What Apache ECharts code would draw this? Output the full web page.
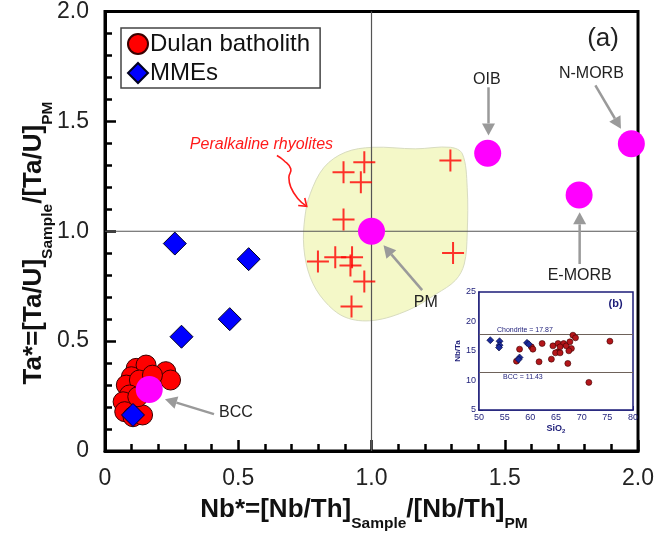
<!DOCTYPE html>
<html><head><meta charset="utf-8">
<script src="https://cdn.jsdelivr.net/npm/echarts@6/dist/echarts.min.js"></script>
<style>html,body{margin:0;padding:0;background:#fff}#c{width:657px;height:538px}</style>
</head><body><div id="c"></div>
<script>
// ---------- data ----------
const dulanBatholith = [[0.117,0.376],[0.154,0.391],[0.099,0.338],[0.228,0.361],[0.246,0.323],[0.080,0.300],[0.129,0.323],[0.092,0.255],[0.068,0.224],[0.074,0.179],[0.105,0.156],[0.141,0.164],[0.123,0.247],[0.178,0.345]];
const mmes = [[0.262,0.944],[0.539,0.873],[0.468,0.600],[0.287,0.520],[0.105,0.164]];
const peralkalineRhyolites = [[0.973,1.314],[0.895,1.269],[0.960,1.223],[1.296,1.322],[0.895,1.053],[0.799,0.862],[0.864,0.882],[0.927,0.882],[0.921,0.844],[0.973,0.771],[0.925,0.657],[1.306,0.901]];
const refNames = ['BCC','PM','OIB','E-MORB','N-MORB'];
const refX = [0.166,1.0,1.436,1.779,1.975];
const refY = [0.280,1.0,1.355,1.165,1.398];
const fieldOutline = [[0.822,1.291],[0.901,1.359],[1.005,1.382],[1.164,1.375],[1.296,1.382],[1.341,1.352],[1.359,1.200],[1.359,0.988],[1.348,0.851],[1.315,0.777],[1.243,0.715],[1.138,0.641],[1.006,0.594],[0.901,0.609],[0.822,0.685],[0.770,0.791],[0.746,0.927],[0.750,1.064],[0.770,1.170]];
const xTickLabels = [0,0.5,1.0,1.5,2.0];
const yTickLabels = [0,0.5,1.0,1.5,2.0];
// inset (b): SiO2 vs Nb/Ta
const insetDulan = [[57.3,13.28],[57.9,15.31],[60.2,15.7],[60.5,15.31],[62.3,16.27],[61.7,13.17],[64.1,13.62],[64.4,15.87],[65.4,16.27],[65.4,14.86],[64.9,14.69],[65.8,14.69],[66.5,16.27],[67.0,15.87],[67.7,16.55],[68.0,15.42],[67.5,15.03],[67.3,12.89],[68.3,17.68],[68.8,17.23],[75.5,16.66],[71.4,9.68],[65.8,15.7]];
const insetMMEs = [[52.2,16.83],[54.0,16.66],[54.0,15.99],[53.9,15.59],[59.35,16.38],[59.7,16.15],[57.9,13.9],[57.7,13.56]];
const chondriteNbTa = 17.87;
const bccNbTa = 11.43;
// annotation anchors in data coordinates: [label, textX, textY, arrowFromX, arrowFromY, arrowToX, arrowToY]
const annotations = [
  ['OIB',1.433,1.691,1.439,1.655,1.439,1.436],
  ['N-MORB',1.825,1.718,1.840,1.664,1.936,1.466],
  ['E-MORB',1.781,0.800,1.781,0.851,1.781,1.086],
  ['PM',1.204,0.677,1.190,0.732,1.045,0.936],
  ['BCC',0.491,0.173,0.409,0.168,0.225,0.236]
];
const fieldLabel = ['Peralkaline rhyolites',0.587,1.395];
const curlyArrow = [[0.645,1.345],[0.671,1.322],[0.697,1.284],[0.690,1.246],[0.697,1.201],[0.724,1.148],[0.757,1.113]];
const panelLabel = ['(a)',1.869,1.877];
const insetPanelLabel = ['(b)',76.6,22.9];
const xTitle = ['Nb*=[Nb/Th]','Sample','/[Nb/Th]','PM'];
const yTitle = ['Ta*=[Ta/U]','Sample','/[Ta/U]','PM'];

const FONT = "'Liberation Sans', Arial, Helvetica, sans-serif";
const NAVY = '#1c1c78';
const chart = echarts.init(document.getElementById('c'), null, {renderer:'canvas'});

const fmt = v => v === 0 ? '0' : v.toFixed(1);

const option = {
  animation:false,
  backgroundColor:'#fff',
  textStyle:{fontFamily:FONT},
  grid:[
    {left:105, top:11, width:541, height:440, show:true, borderColor:'#000', borderWidth:3, backgroundColor:'#fff'},
    {left:479, top:292, width:154, height:118, show:true, borderColor:NAVY, borderWidth:1.5, backgroundColor:'#fff', z:3}
  ],
  legend:{
    data:['Dulan batholith','MMEs'], orient:'vertical', left:121, top:28,
    itemWidth:20, itemHeight:20, itemGap:5, padding:[4,10,3,6],
    borderColor:'#444', borderWidth:1.5, backgroundColor:'#fff', selectedMode:false,
    textStyle:{fontSize:24, color:'#111', fontFamily:FONT, padding:[0,0,0,-3]}
  },
  xAxis:[
    {type:'value', gridIndex:0, min:0, max:2, interval:0.5,
     axisLine:{show:true, lineStyle:{color:'#000', width:3}},
     axisTick:{show:true, inside:true, length:11, lineStyle:{color:'#000', width:2.5}},
     minorTick:{show:true, splitNumber:5, length:7, lineStyle:{color:'#000', width:2.5}},
     splitLine:{show:false}, minorSplitLine:{show:false},
     axisLabel:{fontSize:23, color:'#222', margin:16, fontFamily:FONT, formatter:fmt, customValues:xTickLabels}
    },
    {type:'value', gridIndex:1, min:50, max:80, interval:5,
     axisLine:{show:true, lineStyle:{color:NAVY, width:1.5}},
     axisTick:{show:true, inside:true, length:4, lineStyle:{color:NAVY, width:1}},
     minorTick:{show:true, splitNumber:2, length:4, lineStyle:{color:NAVY, width:1}},
     splitLine:{show:false}, minorSplitLine:{show:false},
     axisLabel:{fontSize:9, color:NAVY, margin:3, fontFamily:FONT},
     name:'SiO{s|2}', nameLocation:'middle', nameGap:13,
     nameTextStyle:{fontSize:9, color:NAVY, fontWeight:'bold', rich:{s:{fontSize:6, color:NAVY, fontWeight:'bold', padding:[5,0,0,0]}}}
    }
  ],
  yAxis:[
    {type:'value', gridIndex:0, min:0, max:2, interval:0.5,
     axisLine:{show:true, lineStyle:{color:'#000', width:3}},
     axisTick:{show:true, inside:true, length:11, lineStyle:{color:'#000', width:2.5}},
     minorTick:{show:true, splitNumber:5, length:7, lineStyle:{color:'#000', width:2.5}},
     splitLine:{show:false}, minorSplitLine:{show:false},
     axisLabel:{fontSize:23, color:'#222', margin:16, fontFamily:FONT, formatter:fmt, customValues:yTickLabels}
    },
    {type:'value', gridIndex:1, min:5, max:25, interval:5,
     axisLine:{show:true, lineStyle:{color:NAVY, width:1.5}},
     axisTick:{show:true, inside:true, length:4, lineStyle:{color:NAVY, width:1}},
     minorTick:{show:true, splitNumber:2, length:4, lineStyle:{color:NAVY, width:1}},
     splitLine:{show:false}, minorSplitLine:{show:false},
     axisLabel:{fontSize:9, color:NAVY, margin:3, fontFamily:FONT},
     name:'Nb/Ta', nameLocation:'middle', nameGap:14, nameRotate:90,
     nameTextStyle:{fontSize:8, color:NAVY, fontWeight:'bold'}
    }
  ],
  series:[
    {type:'custom', name:'field', xAxisIndex:0, yAxisIndex:0, silent:true, z:1,
     data:[0],
     renderItem:(params, api) => ({
       type:'polygon',
       shape:{points:fieldOutline.map(p => api.coord(p)), smooth:0.35},
       style:{fill:'#f4f8c8', stroke:'#d8dcc0', lineWidth:1}
     })
    },
    {type:'line', name:'vref', xAxisIndex:0, yAxisIndex:0, silent:true, symbol:'none', z:2,
     data:[[1,0],[1,2]], lineStyle:{color:'#555', width:1.2}},
    {type:'line', name:'href', xAxisIndex:0, yAxisIndex:0, silent:true, symbol:'none', z:2,
     data:[[0,1],[2,1]], lineStyle:{color:'#555', width:1.2}},
    {type:'scatter', name:'Peralkaline rhyolites', xAxisIndex:0, yAxisIndex:0, z:3,
     symbol:'path://M0,10L20,10M10,0L10,20', symbolSize:22,
     itemStyle:{color:'rgba(0,0,0,0)', borderColor:'#ff0000', borderWidth:2},
     data:peralkalineRhyolites},
    {type:'scatter', name:'Dulan batholith', xAxisIndex:0, yAxisIndex:0, z:4,
     symbol:'circle', symbolSize:20,
     itemStyle:{color:'#ff0000', borderColor:'#3a0000', borderWidth:1, opacity:1},
     data:dulanBatholith},
    {type:'scatter', name:'MMEs', xAxisIndex:0, yAxisIndex:0, z:5,
     symbol:'diamond', symbolSize:23,
     itemStyle:{color:'#0000ff', borderColor:'#000022', borderWidth:1, opacity:1},
     data:mmes},
    {type:'scatter', name:'reference', xAxisIndex:0, yAxisIndex:0, z:6,
     symbol:'circle', symbolSize:27,
     itemStyle:{color:'#ff00ff', opacity:1},
     data:refX.map((x,i) => ({name:refNames[i], value:[x, refY[i]]}))},
    {type:'scatter', name:'inset Dulan', xAxisIndex:1, yAxisIndex:1, z:7,
     symbol:'circle', symbolSize:6,
     itemStyle:{color:'#b3161a', borderColor:'#3a0000', borderWidth:0.6, opacity:1},
     data:insetDulan,
     markLine:{silent:true, symbol:'none', animation:false,
       lineStyle:{color:'#6e625a', width:1.2, type:'solid'},
       data:[
         {yAxis:chondriteNbTa, label:{show:true, position:'insideStartTop', formatter:'Chondrite = 17.87', fontSize:7, color:NAVY, distance:[18,1]}},
         {yAxis:bccNbTa, label:{show:true, position:'insideStartBottom', formatter:'BCC = 11.43', fontSize:7, color:NAVY, distance:[24,1]}}
       ]}
    },
    {type:'scatter', name:'inset MMEs', xAxisIndex:1, yAxisIndex:1, z:8,
     symbol:'diamond', symbolSize:7,
     itemStyle:{color:'#1a2a9a', borderColor:'#000033', borderWidth:0.6, opacity:1},
     data:insetMMEs}
  ]
};
chart.setOption(option);

// ---------- annotations positioned from data coordinates ----------
const P = d => chart.convertToPixel({gridIndex:0}, d);
const graphics = [];
function arrow(from, to, color, width, headLen, headHalf) {
  const dx = to[0]-from[0], dy = to[1]-from[1];
  const L = Math.hypot(dx,dy), ux = dx/L, uy = dy/L;
  const base = [to[0]-ux*headLen, to[1]-uy*headLen];
  graphics.push({type:'line', z:20, shape:{x1:from[0], y1:from[1], x2:base[0], y2:base[1]}, style:{stroke:color, lineWidth:width}});
  graphics.push({type:'polygon', z:20, shape:{points:[to, [base[0]-uy*headHalf, base[1]+ux*headHalf], [base[0]+uy*headHalf, base[1]-ux*headHalf]]}, style:{fill:color}});
}
annotations.forEach(a => {
  const t = P([a[1],a[2]]);
  graphics.push({type:'text', z:20, x:t[0], y:t[1], style:{text:a[0], fontSize:16, fontFamily:FONT, fill:'#222', align:'center', verticalAlign:'middle'}});
  arrow(P([a[3],a[4]]), P([a[5],a[6]]), '#9a9a9a', 2.5, 12, 6.5);
});
const fl = P([fieldLabel[1], fieldLabel[2]]);
graphics.push({type:'text', z:20, x:fl[0], y:fl[1], style:{text:fieldLabel[0], fontSize:16, fontStyle:'italic', fontFamily:FONT, fill:'#ff1a1a', align:'center', verticalAlign:'middle'}});
const cpts = curlyArrow.map(P);
graphics.push({type:'polyline', z:20, shape:{points:cpts, smooth:0.5}, style:{stroke:'#ff1a1a', lineWidth:1.6, fill:null}});
(function(){
  const a = cpts[cpts.length-2], b = cpts[cpts.length-1];
  const dx=b[0]-a[0], dy=b[1]-a[1], L=Math.hypot(dx,dy), ux=dx/L, uy=dy/L;
  graphics.push({type:'polyline', z:20, shape:{points:[[b[0]-ux*7-uy*5, b[1]-uy*7+ux*5], b, [b[0]-ux*7+uy*5, b[1]-uy*7-ux*5]]}, style:{stroke:'#ff1a1a', lineWidth:1.6, fill:null}});
})();
const pa = P([panelLabel[1], panelLabel[2]]);
graphics.push({type:'text', z:20, x:pa[0], y:pa[1], style:{text:panelLabel[0], fontSize:26, fontFamily:FONT, fill:'#222', align:'center', verticalAlign:'middle'}});
const pb = chart.convertToPixel({gridIndex:1}, [insetPanelLabel[1], insetPanelLabel[2]]);
graphics.push({type:'text', z:20, x:pb[0], y:pb[1], style:{text:insetPanelLabel[0], fontSize:11, fontWeight:'bold', fontFamily:FONT, fill:NAVY, align:'center', verticalAlign:'middle'}});

// axis titles with subscripts
const titleRich = {
  m:{fontSize:26, fontWeight:'bold', fill:'#111', fontFamily:FONT, lineHeight:30, verticalAlign:'top'},
  s:{fontSize:15.5, fontWeight:'bold', fill:'#111', fontFamily:FONT, lineHeight:16, padding:[19,0,0,0], verticalAlign:'top'}
};
const richStr = t => `{m|${t[0]}}{s|${t[1]}}{m|${t[2]}}{s|${t[3]}}`;
graphics.push({type:'text', z:20, x:364, y:511.5, style:{text:richStr(xTitle), rich:titleRich, align:'center', verticalAlign:'middle'}});
graphics.push({type:'text', z:20, x:35.5, y:243, rotation:Math.PI/2, style:{text:richStr(yTitle), rich:titleRich, align:'center', verticalAlign:'middle'}});
chart.setOption({graphic:graphics});
</script>
</body></html>
